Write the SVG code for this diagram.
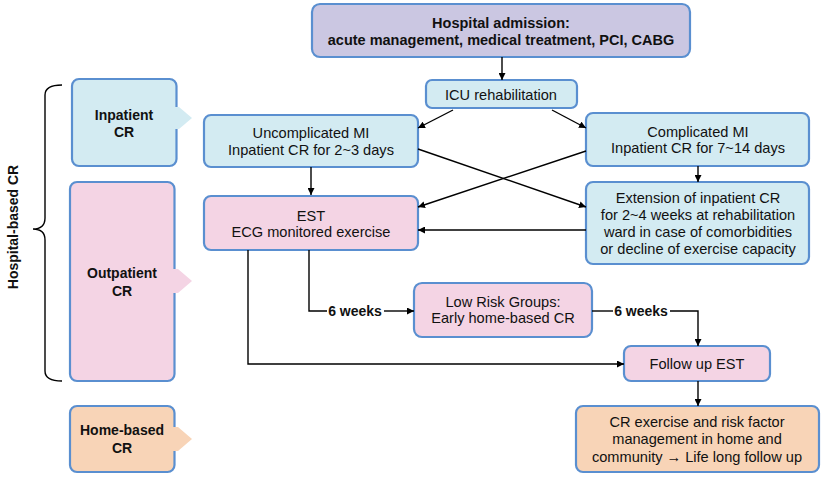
<svg xmlns="http://www.w3.org/2000/svg" width="827" height="481" viewBox="0 0 827 481">
<style>
.bx{stroke:#5a8fd0;stroke-width:2.2}
.pu{fill:#cbc7e2}.bl{fill:#d3ebf2}.pk{fill:#f4d4e4}.or{fill:#f8d4b7}
text{font-family:"Liberation Sans",Arial,sans-serif;font-size:14.6px;fill:#111;text-anchor:middle}
.b{font-weight:bold;font-size:14px}
.ln{fill:none;stroke:#000;stroke-width:1.4}
</style>
<defs>
<marker id="ah" viewBox="0 0 10 10" refX="10" refY="5" markerWidth="7" markerHeight="7" markerUnits="userSpaceOnUse" orient="auto">
<path d="M0,0L10,5L0,10z" fill="#000"/>
</marker>
</defs>
<rect width="827" height="481" fill="#fff"/>

<g id="hospital-based">
<path class="ln" d="M62,85 Q45,85 45,95 L45,218 Q45,229 33,229 Q45,229 45,240 L45,371 Q45,381 62,381"/>
<text class="b" transform="translate(18,227) rotate(-90)">Hospital-based CR</text>
</g>

<g id="inpatient">
<rect class="bx bl" x="72" y="79" width="104.5" height="87" rx="7"/>
<path class="bl" d="M173,107L179,107L192,118L179,129L173,129z"/>
<text class="b" x="124" y="120">Inpatient</text>
<text class="b" x="124" y="137">CR</text>
</g>
<g id="outpatient">
<rect class="bx pk" x="70" y="182" width="104.5" height="199" rx="7"/>
<path class="pk" d="M171,269L178,269L192,281L178,293L171,293z"/>
<text class="b" x="122" y="278">Outpatient</text>
<text class="b" x="122" y="296">CR</text>
</g>
<g id="homebased">
<rect class="bx or" x="70" y="406" width="104.5" height="66" rx="7"/>
<path class="or" d="M171,427L178,427L192,439L178,451L171,451z"/>
<text class="b" x="122" y="435">Home-based</text>
<text class="b" x="122" y="453">CR</text>
</g>

<g id="admission">
<rect class="bx pu" x="312" y="4" width="378" height="53" rx="8"/>
<text class="b" x="501" y="28" style="font-size:14.5px">Hospital admission:</text>
<text class="b" x="501" y="45" style="font-size:14.5px">acute management, medical treatment, PCI, CABG</text>
</g>
<g id="icu">
<rect class="bx bl" x="426" y="80" width="151" height="28" rx="6"/>
<text x="501" y="100">ICU rehabilitation</text>
</g>
<g id="uncomplicated">
<rect class="bx bl" x="204" y="115" width="214" height="52" rx="7"/>
<text x="311" y="138">Uncomplicated MI</text>
<text x="311" y="155">Inpatient CR for 2~3 days</text>
</g>
<g id="complicated">
<rect class="bx bl" x="586" y="113" width="223" height="53" rx="7"/>
<text x="698" y="137">Complicated MI</text>
<text x="698" y="153">Inpatient CR for 7~14 days</text>
</g>
<g id="est">
<rect class="bx pk" x="204" y="196" width="214" height="54" rx="7"/>
<text x="311" y="221">EST</text>
<text x="311" y="237">ECG monitored exercise</text>
</g>
<g id="extension">
<rect class="bx bl" x="586" y="182" width="223" height="82" rx="7"/>
<text x="698" y="203">Extension of inpatient CR</text>
<text x="698" y="220">for 2~4 weeks at rehabilitation</text>
<text x="698" y="237">ward in case of comorbidities</text>
<text x="698" y="254">or decline of exercise capacity</text>
</g>
<g id="lowrisk">
<rect class="bx pk" x="414" y="283" width="178" height="54" rx="8"/>
<text x="503" y="307">Low Risk Groups:</text>
<text x="503" y="323">Early home-based CR</text>
</g>
<g id="followup">
<rect class="bx pk" x="624" y="346" width="146" height="35" rx="7"/>
<text x="697" y="369">Follow up EST</text>
</g>
<g id="lifelong">
<rect class="bx or" x="576" y="406" width="243" height="66" rx="7"/>
<text x="697" y="427">CR exercise and risk factor</text>
<text x="697" y="444">management in home and</text>
<text x="697" y="462">community → Life long follow up</text>
</g>

<g id="connectors">
<line class="ln" x1="502" y1="57" x2="502" y2="80" marker-end="url(#ah)"/>
<line class="ln" x1="453" y1="110" x2="418" y2="128" marker-end="url(#ah)"/>
<line class="ln" x1="552" y1="110" x2="586" y2="128" marker-end="url(#ah)"/>
<line class="ln" x1="311" y1="167" x2="311" y2="195" marker-end="url(#ah)"/>
<line class="ln" x1="698" y1="166" x2="698" y2="182" marker-end="url(#ah)"/>
<line class="ln" x1="418" y1="149" x2="586" y2="207" marker-end="url(#ah)"/>
<line class="ln" x1="586" y1="151" x2="418" y2="207" marker-end="url(#ah)"/>
<line class="ln" x1="586" y1="230" x2="418" y2="230" marker-end="url(#ah)"/>
<path class="ln" d="M309,250L309,311L327,311"/>
<line class="ln" x1="384" y1="311" x2="414" y2="311" marker-end="url(#ah)"/>
<text class="b" x="355" y="316">6 weeks</text>
<path class="ln" d="M592,311L613,311"/>
<path class="ln" d="M670,311L698,311L698,346" marker-end="url(#ah)"/>
<text class="b" x="641" y="316">6 weeks</text>
<path class="ln" d="M248,250L248,364L624,364" marker-end="url(#ah)"/>
<line class="ln" x1="698" y1="381" x2="698" y2="406" marker-end="url(#ah)"/>
</g>
</svg>
